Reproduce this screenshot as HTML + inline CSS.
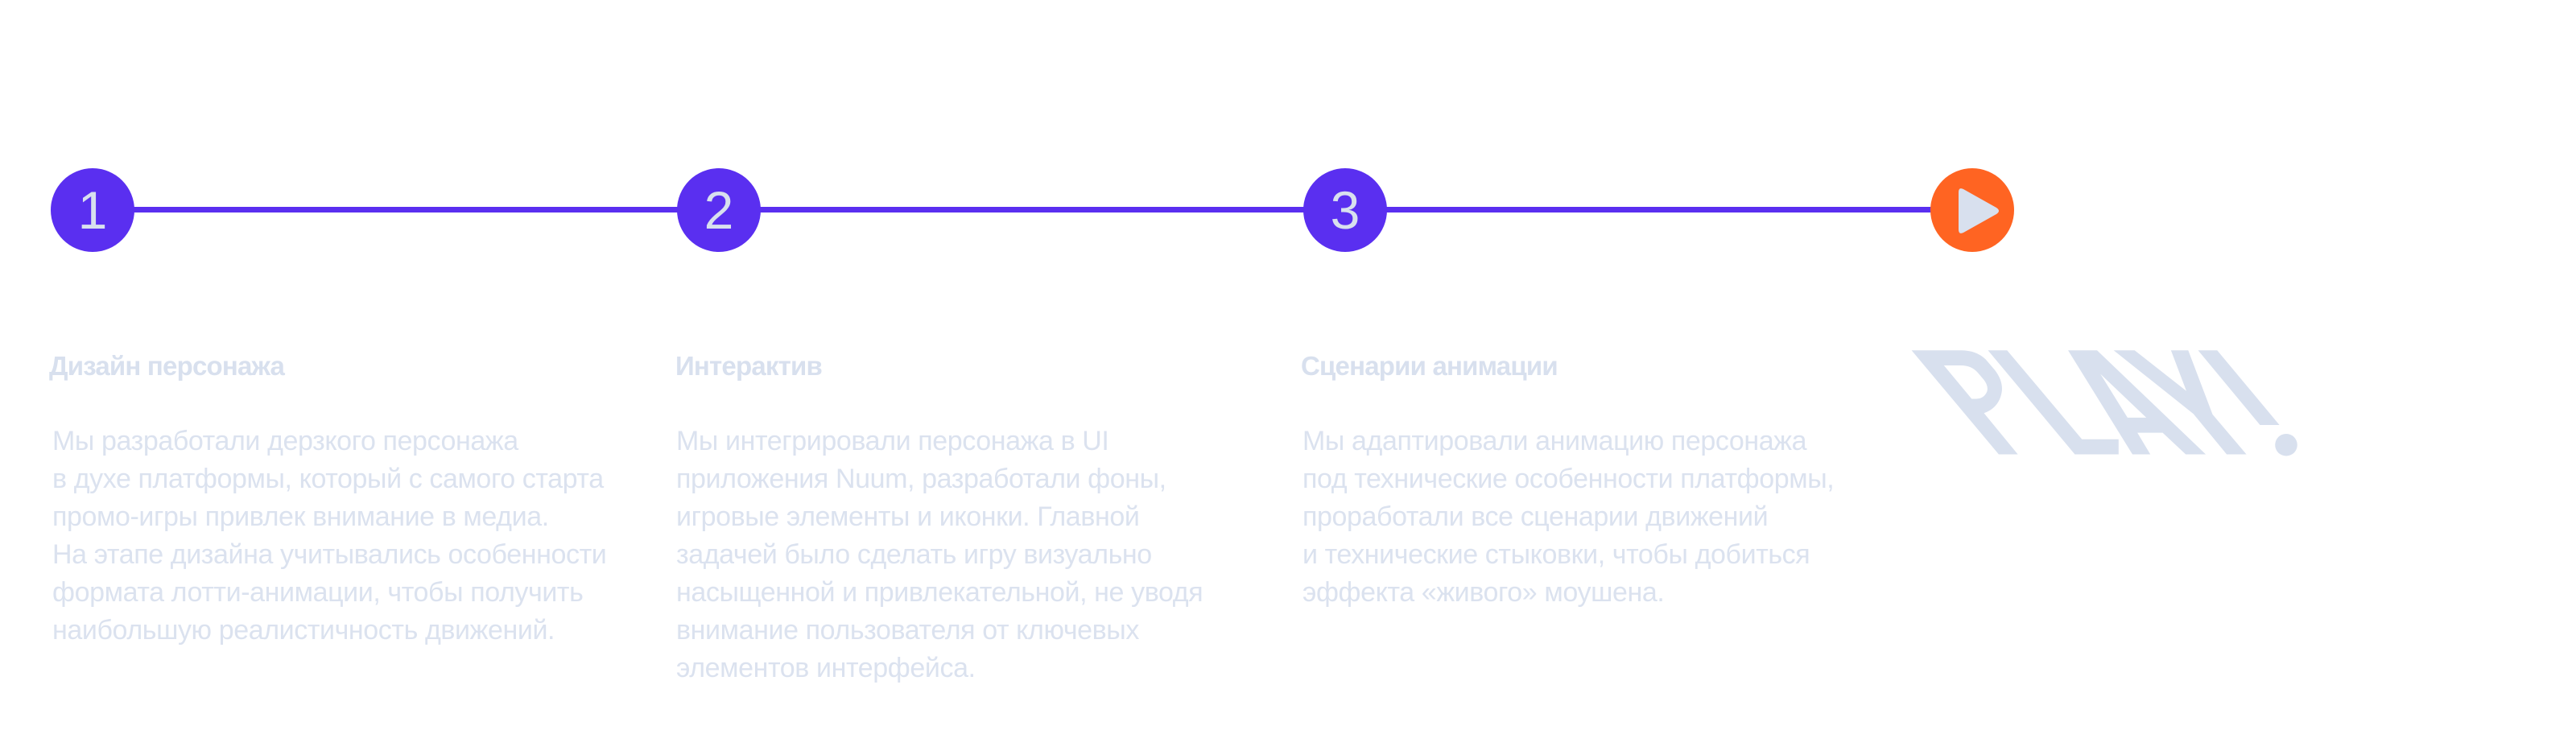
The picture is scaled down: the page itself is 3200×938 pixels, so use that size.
<!DOCTYPE html>
<html><head><meta charset="utf-8"><style>
html,body{margin:0;padding:0;background:#fff;width:3200px;height:938px;overflow:hidden;position:relative;font-family:"Liberation Sans","DejaVu Sans",sans-serif;}
.line{position:absolute;left:115px;top:257px;width:2335px;height:7px;background:#5a2ff0;}
.c{position:absolute;top:209px;width:104px;height:104px;border-radius:50%;background:#5a2ff0;color:#d8e0ee;font-size:66px;line-height:104px;text-align:center;}
.t{position:absolute;top:436px;font-size:33px;font-weight:bold;color:#d8e0ee;white-space:nowrap;letter-spacing:-0.8px;}
.b{position:absolute;top:525px;font-size:34px;line-height:47px;color:#dbe2ef;white-space:nowrap;letter-spacing:-0.4px;}
</style></head><body>
<div class="line"></div>
<div class="c" style="left:63px">1</div>
<div class="c" style="left:841px">2</div>
<div class="c" style="left:1619px">3</div>
<div class="c" style="left:2398px;background:#ff6422"></div>
<svg style="position:absolute;left:0;top:0" width="3200" height="938">
<path d="M2433,239 Q2433,232 2439,235 L2480,258 Q2486,262 2480,266 L2439,289 Q2433,292 2433,285 Z" fill="#d8e0ee"/>
<g transform="translate(2300,180) scale(0.3827,0.3349)" fill="#d8e0ee">
<path fill-rule="evenodd" d="M195,762 L355,762 Q405,762 435,795 L465,835 Q492,875 488,915 Q480,975 430,995 L540,1148 L478,1148 Z M300,818 L355,818 Q390,818 410,845 L430,872 Q445,895 440,915 Q430,942 405,942 L390,942 Z"/>
<path d="M443,762 L505,762 L748,1092 L867,1092 L867,1148 L725,1148 Z"/>
<path fill-rule="evenodd" d="M703,762 L797,762 L1150,1148 L1085,1148 L1010,1068 L928,1068 L970,1148 L912,1148 Z M808,850 L957,1012 L896,1012 Z"/>
<path d="M851,762 L919,762 L1087,913 L1037,762 L1093,762 L1172,1000 L1282,1148 L1218,1148 L1110,998 Z"/>
<path d="M1125,762 L1187,762 L1389,1039 L1326,1039 Z"/>
<ellipse cx="1411" cy="1113" rx="36" ry="41"/>
</g>
</svg>
<div class="t" style="left:61px">Дизайн персонажа</div>
<div class="t" style="left:839px">Интерактив</div>
<div class="t" style="left:1616px">Сценарии анимации</div>
<div class="b" style="left:65px">Мы разработали дерзкого персонажа<br>в духе платформы, который с самого старта<br>промо-игры привлек внимание в медиа.<br>На этапе дизайна учитывались особенности<br>формата лотти-анимации, чтобы получить<br>наибольшую реалистичность движений.</div>
<div class="b" style="left:840px">Мы интегрировали персонажа в UI<br>приложения Nuum, разработали фоны,<br>игровые элементы и иконки. Главной<br>задачей было сделать игру визуально<br>насыщенной и привлекательной, не уводя<br>внимание пользователя от ключевых<br>элементов интерфейса.</div>
<div class="b" style="left:1618px">Мы адаптировали анимацию персонажа<br>под технические особенности платформы,<br>проработали все сценарии движений<br>и технические стыковки, чтобы добиться<br>эффекта «живого» моушена.</div>
</body></html>
